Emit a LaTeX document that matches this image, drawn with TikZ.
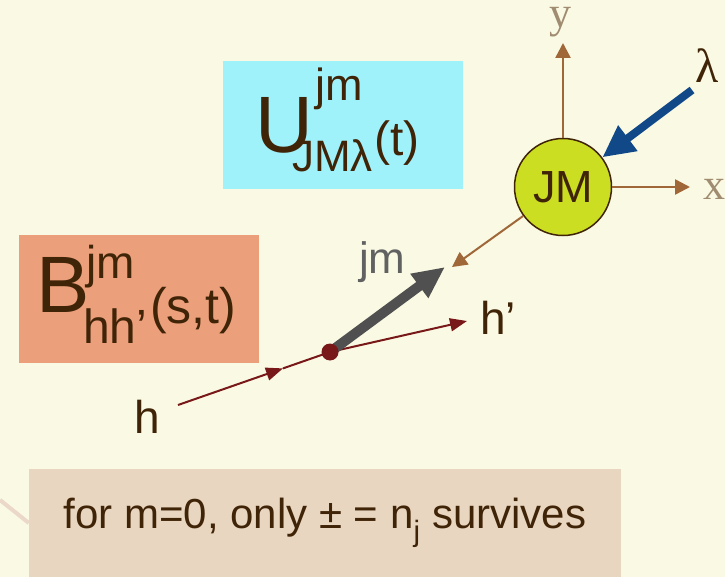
\documentclass[tikz,border=0pt]{standalone}
\usepackage{fontspec}
\setmainfont{Liberation Sans}
\newfontfamily\axisserif{Liberation Serif}
\usetikzlibrary{arrows.meta,backgrounds}
\definecolor{creambg}{RGB}{250,250,228}
\definecolor{skybox}{RGB}{160,242,250}
\definecolor{salmonbox}{RGB}{235,159,122}
\definecolor{sandbox}{RGB}{232,214,192}
\definecolor{inkbrown}{RGB}{64,36,8}
\definecolor{limefill}{RGB}{204,222,34}
\definecolor{axisbrown}{RGB}{160,104,56}
\definecolor{axislabel}{RGB}{160,140,112}
\definecolor{lambdablue}{RGB}{16,72,136}
\definecolor{bosongray}{RGB}{80,80,80}
\definecolor{fermionred}{RGB}{120,24,24}
\definecolor{calloutline}{RGB}{235,216,200}
\newcommand{\fsz}[1]{\fontsize{#1}{#1}\selectfont}

\begin{document}
\begin{tikzpicture}[x=1pt,y=-1pt,
    formbox/.style={minimum width=240pt,minimum height=128pt,inner sep=0pt},
    glyph/.style={anchor=base west,inner sep=0pt,text=inkbrown},
    axis/.style={axisbrown,line width=2.5pt,-{Triangle[length=15pt,width=15pt]}},
    axlbl/.style={anchor=base,inner sep=0pt,text=axislabel,text height=0.46em,
                  font=\axisserif\fsz{44}},
    fermion/.style={fermionred,line width=2pt},
    ftip/.style={-{Triangle[length=17pt,width=13pt]}},
  ]
  \useasboundingbox (0,0) rectangle (725,577);

  % the two amplitudes
  \node[formbox,fill=skybox] (ubox) at (343,125) {};
  \node[formbox,fill=salmonbox] (bbox) at (139,299) {};
  \node[glyph,font=\fsz{80}] (usym) at (255,153) {U};
  \node[glyph,font=\fsz{45}] (usup) at (315,101) {jm};
  \node[glyph,font=\fsz{44}] (usub) at (292,172) {JMλ};
  \node[glyph,font=\fsz{48}] (uarg) at (374,156) {(t)};
  \node[glyph,font=\fsz{80}] (bsym) at (36,312) {B};
  \node[glyph,font=\fsz{46}] (bsup) at (86,278) {jm};
  \node[glyph,font=\fsz{48}] (bsub) at (83,343) {hh’};
  \node[glyph,font=\fsz{50}] (barg) at (150,323) {(s,t)};

  % note at the bottom
  \node[fill=sandbox,minimum width=592pt,minimum height=108pt,inner sep=0pt,
        text=inkbrown,font=\fsz{42}] (note) at (325,523)
    {for m=0, only ± = n\textsubscript{j} survives};
  \coordinate (cstart) at (0,500);
  \begin{scope}[on background layer]
    \fill[creambg] (0,0) rectangle (725,577);
    \draw[calloutline,line width=4pt] (cstart) -- (note.west);
  \end{scope}

  % the JM state and its frame
  \node[circle,fill=limefill,draw=inkbrown,line width=1.5pt,minimum size=97pt,
        inner sep=0pt,font=\fsz{45},text=inkbrown] (JM) at (563,187) {JM};
  \coordinate (yend) at (563,43);
  \coordinate (xend) at (690,187);
  \coordinate (jmtip) at (452,267);
  \draw[axis] (JM.north) -- (yend);
  \draw[axis] (JM.east) -- (xend);
  \draw[axis,line width=2pt] (JM.216) -- (jmtip);
  \node[axlbl] (ylbl) at (560,28) {y};
  \node[axlbl] (xlbl) at (714,200) {x};
  \coordinate (lamstart) at (692,90);
  \draw[lambdablue,line width=8pt,-{Triangle[length=32pt,width=30pt]}] (lamstart) -- (JM.37);
  \node[anchor=base,inner sep=0pt,font=\axisserif\fsz{48},text=inkbrown] (lamlbl) at (707,83) {λ};

  % the h -> h' vertex
  \coordinate (vtx) at (330,352);
  \coordinate (hstart) at (178,405);
  \coordinate (hmid) at (283,368.4);
  \coordinate (hptip) at (467,321);
  \coordinate (gtip) at (445,267);
  \draw[fermion,ftip] (hstart) -- (hmid);
  \draw[fermion] (hmid) -- (vtx);
  \draw[fermion,ftip] (vtx) -- (hptip);
  \draw[bosongray,line width=10pt,-{Triangle[length=32pt,width=28pt]}] (vtx) -- (gtip);
  \node[circle,fill=fermionred,minimum size=17pt,inner sep=0pt] (dot) at (vtx) {};
  \node[anchor=base west,inner sep=0pt,font=\fsz{44},text=bosongray!90] (jmlbl) at (359,273) {jm};
  \node[anchor=base,inner sep=0pt,font=\fsz{46},text=inkbrown] (hlbl) at (147,433) {h};
  \node[anchor=base west,inner sep=0pt,font=\fsz{46},text=inkbrown] (hplbl) at (480,334) {h’};
\end{tikzpicture}
\end{document}
